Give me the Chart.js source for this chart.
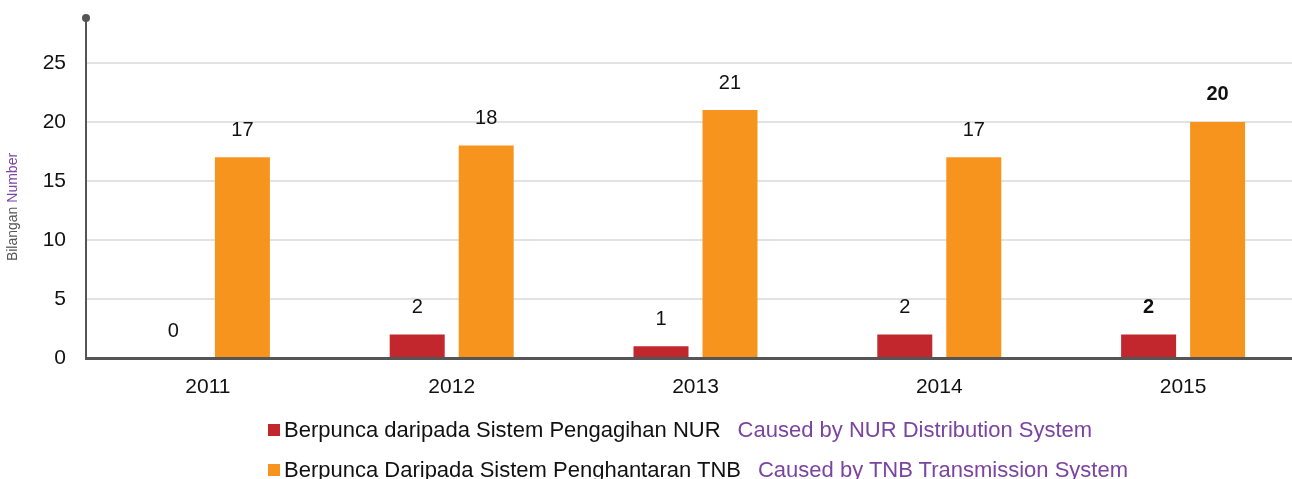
<!DOCTYPE html>
<html><head><meta charset="utf-8">
<script src="https://cdn.jsdelivr.net/npm/chart.js@4/dist/chart.umd.min.js"></script>
<style>
html,body{margin:0;padding:0;background:#fff;overflow:hidden;width:1292px;height:479px;}
#wrap{position:absolute;left:0;top:0;width:1305px;height:479px;}
.lg{position:absolute;left:268px;font-family:"Liberation Sans",Arial,sans-serif;font-size:22px;color:#111;white-space:nowrap;line-height:26px;}
.sw{display:inline-block;width:12px;height:12px;margin-right:4px;vertical-align:1px;}
.en{color:#7b44a0;margin-left:17px;}
</style></head>
<body>
<div id="wrap"><canvas id="c" width="1305" height="479"></canvas></div>
<div class="lg" id="lg1" style="top:417px"></div>
<div class="lg" id="lg2" style="top:457px"></div>
<script>
const categories = ['2011','2012','2013','2014','2015'];
const nurValues = [0, 2, 1, 2, 2];
const tnbValues = [17, 18, 21, 17, 20];
const seriesMalay = ['Berpunca daripada Sistem Pengagihan NUR', 'Berpunca Daripada Sistem Penghantaran TNB'];
const seriesEnglish = ['Caused by NUR Distribution System', 'Caused by TNB Transmission System'];
const seriesColors = ['#c1272d', '#f7941d'];
const yTicks = [0, 5, 10, 15, 20, 25];
const boldCategory = '2015';

const FONT = '"Liberation Sans", Arial, sans-serif';

const valueLabels = {
  id: 'valueLabels',
  afterDatasetsDraw(chart) {
    const ctx = chart.ctx;
    ctx.save();
    ctx.textAlign = 'center';
    ctx.textBaseline = 'middle';
    ctx.fillStyle = '#111';
    chart.data.datasets.forEach((ds, di) => {
      const meta = chart.getDatasetMeta(di);
      meta.data.forEach((bar, i) => {
        const bold = chart.data.labels[i] === boldCategory;
        ctx.font = (bold ? 'bold ' : '') + '20px ' + FONT;
        ctx.fillText(String(ds.data[i]), bar.x, bar.y - 27);
      });
    });
    ctx.restore();
  }
};

const axisDecor = {
  id: 'axisDecor',
  afterDraw(chart) {
    const ctx = chart.ctx;
    const a = chart.chartArea;
    ctx.save();
    ctx.fillStyle = '#555';
    ctx.beginPath();
    ctx.arc(a.left, a.top, 4, 0, Math.PI * 2);
    ctx.fill();
    ctx.translate(13, 207);
    ctx.rotate(-Math.PI / 2);
    ctx.font = '14px ' + FONT;
    ctx.textBaseline = 'middle';
    const t1 = 'Bilangan ', t2 = 'Number';
    const w1 = ctx.measureText(t1).width, w2 = ctx.measureText(t2).width;
    const start = -(w1 + w2) / 2;
    ctx.textAlign = 'left';
    ctx.fillStyle = '#555';
    ctx.fillText(t1, start, 0);
    ctx.fillStyle = '#7b44a0';
    ctx.fillText(t2, start + w1, 0);
    ctx.restore();
  }
};

new Chart(document.getElementById('c'), {
  type: 'bar',
  data: {
    labels: categories,
    datasets: [
      { label: seriesMalay[0], data: nurValues, backgroundColor: seriesColors[0], barPercentage: 0.797, categoryPercentage: 0.566 },
      { label: seriesMalay[1], data: tnbValues, backgroundColor: seriesColors[1], barPercentage: 0.797, categoryPercentage: 0.566 }
    ]
  },
  options: {
    responsive: false,
    animation: false,
    layout: { padding: { top: 18, right: 0, left: 0, bottom: 0 } },
    plugins: { legend: { display: false }, tooltip: { enabled: false } },
    scales: {
      x: {
        grid: { display: true, color: 'rgba(0,0,0,0)', drawTicks: false },
        border: { display: true, color: '#555', width: 3 },
        ticks: { color: '#111', font: { family: FONT, size: 21 }, padding: 17 },
        afterFit(s) { s.height = 121; s.paddingLeft = 0; s.paddingRight = 0; }
      },
      y: {
        min: 0, max: 28.8,
        afterBuildTicks(s) { s.ticks = yTicks.map(v => ({ value: v })); },
        grid: { color: '#e2e2e2', lineWidth: 2, drawTicks: false },
        border: { display: true, color: '#555', width: 2 },
        ticks: { color: '#111', font: { family: FONT, size: 21 }, padding: 20 },
        afterFit(s) { s.width = 86; s.paddingTop = 0; s.paddingBottom = 0; }
      }
    }
  },
  plugins: [valueLabels, axisDecor]
});

[0, 1].forEach(i => {
  const el = document.getElementById('lg' + (i + 1));
  const sw = document.createElement('span');
  sw.className = 'sw'; sw.style.background = seriesColors[i];
  el.appendChild(sw);
  el.appendChild(document.createTextNode(seriesMalay[i]));
  const en = document.createElement('span');
  en.className = 'en'; en.textContent = seriesEnglish[i];
  el.appendChild(en);
});
</script>
</body></html>
